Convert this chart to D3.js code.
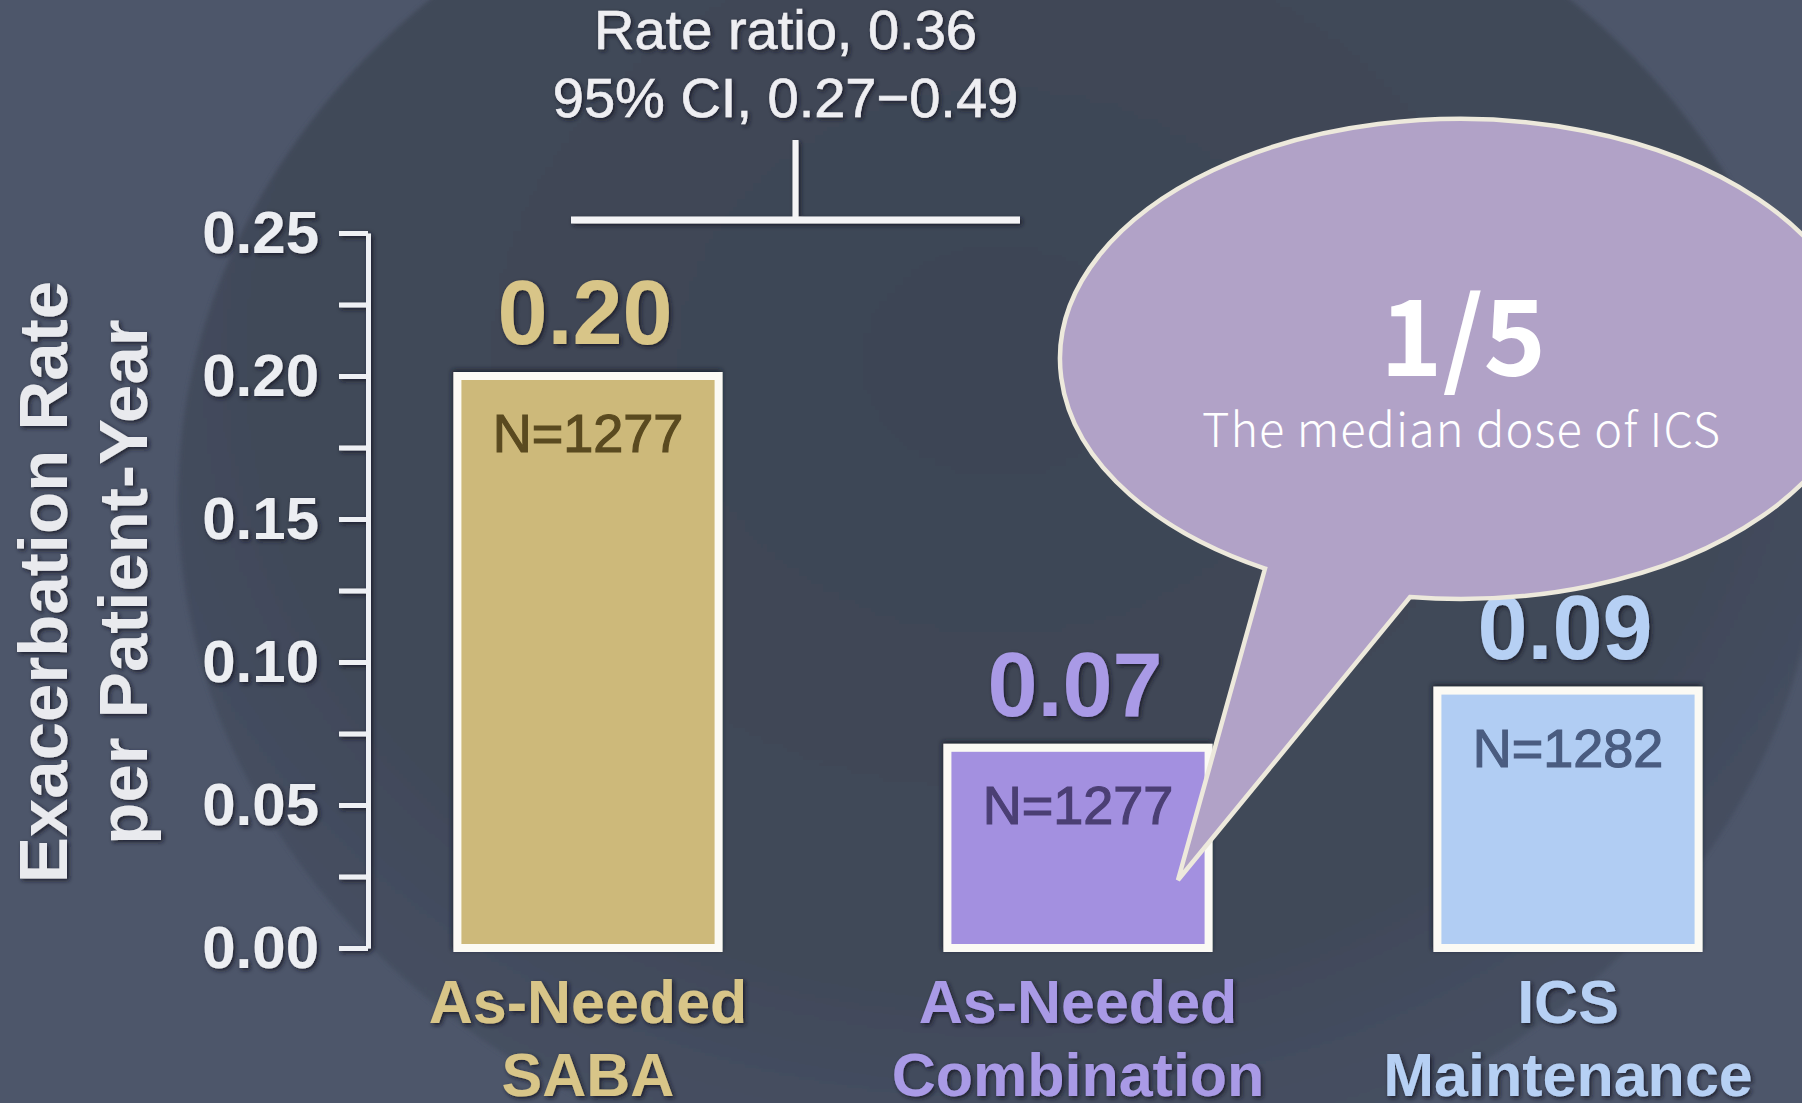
<!DOCTYPE html>
<html>
<head>
<meta charset="utf-8">
<script src="https://cdn.jsdelivr.net/npm/d3@7"></script>
<style>
  html, body { margin: 0; padding: 0; background: #4d566a; overflow: hidden; }
  svg { display: block; }
</style>
</head>
<body>
<svg id="chart" width="1802" height="1103"></svg>
<script>
// Annual exacerbation rate by treatment arm
const categories = ["As-Needed SABA", "As-Needed Combination", "ICS Maintenance"];
const categoryLines = [["As-Needed", "SABA"], ["As-Needed", "Combination"], ["ICS", "Maintenance"]];
const rates = [0.20, 0.07, 0.09];
const sampleSizes = [1277, 1277, 1282];
const yMajorTicks = [0, 0.05, 0.10, 0.15, 0.20, 0.25];
const yMinorTicks = [0.025, 0.075, 0.125, 0.175, 0.225];
const yTitleLines = ["Exacerbation Rate", "per Patient-Year"];
const ratioLines = ["Rate ratio, 0.36", "95% CI, 0.27\u22120.49"];
const calloutLines = ["1/5", "The median dose of ICS"];

const barFill   = ["#cdb97a", "#a390e0", "#b1cdf3"];
const valueInk  = ["#d8c588", "#a99ae6", "#b6d0f4"];
const countInk  = ["#5a4a20", "#4b3f74", "#4a5c80"];

const W = 1802, H = 1103;
const svg = d3.select("#chart");
const defs = svg.append("defs");

// soft dark halo behind light text and lines
const sh = defs.append("filter").attr("id", "shadow")
  .attr("x", "-20%").attr("y", "-20%").attr("width", "140%").attr("height", "140%");
sh.append("feDropShadow").attr("dx", 2).attr("dy", 2).attr("stdDeviation", 2)
  .attr("flood-color", "#141926").attr("flood-opacity", 0.85);

const bs = defs.append("filter").attr("id", "barShadow")
  .attr("x", "-10%").attr("y", "-10%").attr("width", "120%").attr("height", "120%");
bs.append("feDropShadow").attr("dx", -1).attr("dy", -2).attr("stdDeviation", 2.5)
  .attr("flood-color", "#161b2a").attr("flood-opacity", 0.9);

const bgGrad = defs.append("radialGradient").attr("id", "bgGrad")
  .attr("cx", "50%").attr("cy", "40%").attr("r", "60%");
bgGrad.append("stop").attr("offset", "0%").attr("stop-color", "#3d4555");
bgGrad.append("stop").attr("offset", "75%").attr("stop-color", "#414959");
bgGrad.append("stop").attr("offset", "100%").attr("stop-color", "#465063");

const blur = defs.append("filter").attr("id", "soft");
blur.append("feGaussianBlur").attr("stdDeviation", 2);

// background
svg.append("rect").attr("width", W).attr("height", H).attr("fill", "#4d566a");
svg.append("ellipse").attr("cx", 1000).attr("cy", 500).attr("rx", 822).attr("ry", 695)
  .attr("fill", "url(#bgGrad)").attr("filter", "url(#soft)");

// scales
const y = d3.scaleLinear().domain([0, 0.25]).range([948, 233]);
const x = d3.scaleBand().domain(categories).range([343, 1813])
  .paddingInner(0.467).paddingOuter(0.2335);
const bw = x.bandwidth();
const cx = c => x(c) + bw / 2;

const fontMain = "'Liberation Sans', Arial, Helvetica, sans-serif";
const fontCallout = "'Noto Sans CJK KR', 'Noto Sans', sans-serif";

// y axis
const axisG = svg.append("g")
  .attr("transform", `translate(${x.range()[0] + 25},0)`)
  .attr("filter", "url(#shadow)")
  .call(d3.axisLeft(y)
    .tickValues(yMajorTicks.concat(yMinorTicks).sort(d3.ascending))
    .tickSize(29).tickSizeOuter(0).tickPadding(20)
    .tickFormat(d => yMajorTicks.some(t => Math.abs(t - d) < 1e-9) ? d3.format(".2f")(d) : ""));
axisG.select(".domain").attr("stroke", "#eef0f4").attr("stroke-width", 5);
axisG.selectAll(".tick line").attr("stroke", "#eef0f4").attr("stroke-width", 5);
axisG.selectAll(".tick text")
  .attr("fill", "#eceef2")
  .style("font-family", fontMain).style("font-weight", "bold").style("font-size", "60px");

// y axis title
const yTitle = svg.append("g").attr("filter", "url(#shadow)");
yTitleLines.forEach((t, i) => {
  yTitle.append("text")
    .attr("transform", `translate(${67 + i * 80},582) rotate(-90)`)
    .attr("text-anchor", "middle")
    .attr("fill", "#e9eaee")
    .style("font-family", fontMain).style("font-weight", "bold").style("font-size", "69px")
    .text(t);
});

// bars
const bars = svg.append("g").attr("filter", "url(#barShadow)");
bars.selectAll("rect").data(categories).join("rect")
  .attr("x", d => x(d))
  .attr("y", (d, i) => y(rates[i]))
  .attr("width", bw)
  .attr("height", (d, i) => y(0) - y(rates[i]))
  .attr("fill", (d, i) => barFill[i])
  .attr("stroke", "#fbfaf4").attr("stroke-width", 8);

// x baseline
svg.append("line")
  .attr("x1", x.range()[0] + 23).attr("x2", x.range()[1] - 20)
  .attr("y1", y(0)).attr("y2", y(0))
  .attr("stroke", "#e6e4ea").attr("stroke-width", 6)
  .attr("filter", "url(#shadow)");

// sample sizes inside bars
svg.append("g").selectAll("text").data(categories).join("text")
  .attr("x", d => cx(d))
  .attr("y", (d, i) => y(rates[i]) + 76)
  .attr("text-anchor", "middle")
  .attr("fill", (d, i) => countInk[i])
  .attr("stroke", (d, i) => countInk[i]).attr("stroke-width", 1.2)
  .style("font-family", fontMain).style("font-size", "54px")
  .text((d, i) => "N=" + sampleSizes[i]);

// value labels above bars
svg.append("g").attr("filter", "url(#shadow)").selectAll("text").data(categories).join("text")
  .attr("x", d => cx(d) - 3)
  .attr("y", (d, i) => y(rates[i]) - 32)
  .attr("text-anchor", "middle")
  .attr("fill", (d, i) => valueInk[i])
  .style("font-family", fontMain).style("font-weight", "bold").style("font-size", "90px")
  .text((d, i) => d3.format(".2f")(rates[i]));

// category labels
const catG = svg.append("g").attr("filter", "url(#shadow)");
categories.forEach((c, i) => {
  categoryLines[i].forEach((line, j) => {
    catG.append("text")
      .attr("x", cx(c)).attr("y", 1023 + j * 73)
      .attr("text-anchor", "middle")
      .attr("fill", valueInk[i])
      .style("font-family", fontMain).style("font-weight", "bold").style("font-size", "61px")
      .text(line);
  });
});

// rate ratio bracket: SABA vs combination
const br = svg.append("g").attr("filter", "url(#shadow)");
const brLeft = cx(categories[0]) - 17, brRight = cx(categories[1]) - 58;
const brMid = (brLeft + brRight) / 2;
br.append("line").attr("x1", brLeft).attr("x2", brRight).attr("y1", 220).attr("y2", 220)
  .attr("stroke", "#f4f4f6").attr("stroke-width", 7);
br.append("line").attr("x1", brMid).attr("x2", brMid).attr("y1", 140).attr("y2", 220)
  .attr("stroke", "#f4f4f6").attr("stroke-width", 6);
ratioLines.forEach((t, i) => {
  br.append("text")
    .attr("x", brMid - 10).attr("y", 49 + i * 68)
    .attr("text-anchor", "middle")
    .attr("fill", "#eeeef2")
    .attr("stroke", "#eeeef2").attr("stroke-width", 0.6)
    .style("font-family", fontMain).style("font-size", "56px")
    .text(t);
});

// second bracket: combination vs ICS maintenance
svg.append("line")
  .attr("x1", cx(categories[1]) - 4).attr("x2", cx(categories[2]))
  .attr("y1", 534).attr("y2", 534)
  .attr("stroke", "#f4f4f6").attr("stroke-width", 7)
  .attr("filter", "url(#shadow)");

// callout bubble
const ec = { x: 1460, y: 359, rx: 400, ry: 240 };
const onEllipse = px => {
  const c = (px - ec.x) / ec.rx;
  return [px, ec.y + ec.ry * Math.sqrt(1 - c * c)];
};
const baseA = onEllipse(1410), baseB = onEllipse(1265);
const tip = [1178, 880];
svg.append("path")
  .attr("d", `M${baseA[0]},${baseA[1]} A${ec.rx},${ec.ry} 0 1 0 ${baseB[0]},${baseB[1]} L${tip[0]},${tip[1]} Z`)
  .attr("fill", "#b1a2c7")
  .attr("stroke", "#ede9dc").attr("stroke-width", 4.5)
  .attr("stroke-linejoin", "miter");

svg.append("text")
  .attr("x", 1463).attr("y", 376)
  .attr("text-anchor", "middle").attr("fill", "#ffffff")
  .style("font-family", fontCallout).style("font-weight", "bold").style("font-size", "106px")
  .text(calloutLines[0]);
svg.append("text")
  .attr("x", 1461).attr("y", 447)
  .attr("text-anchor", "middle").attr("fill", "#ffffff")
  .attr("textLength", 518).attr("lengthAdjust", "spacing")
  .style("font-family", fontCallout).style("font-weight", "300").style("font-size", "47px")
  .text(calloutLines[1]);
</script>
</body>
</html>
